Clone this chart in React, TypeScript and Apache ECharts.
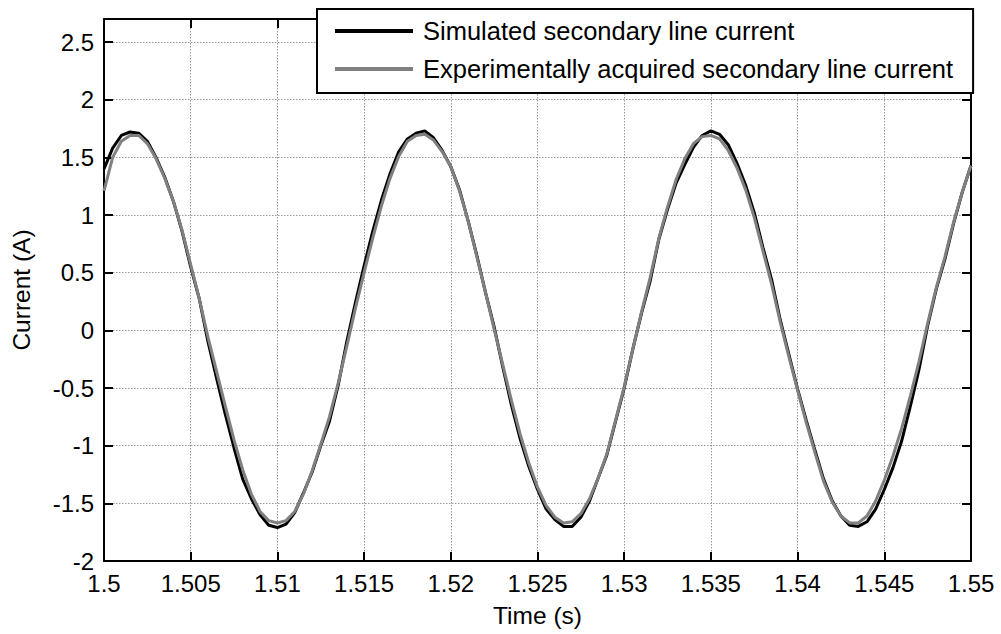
import { useEffect, useRef } from "react";
import * as echarts from "echarts";

// Sampling grid of the recorded window (seconds)
const T_START = 1.5;
const T_STEP = 0.0005;

// Simulated secondary line current (A), one value per sample
const SIMULATED = [
  1.40, 1.58, 1.69, 1.72, 1.71, 1.64, 1.50, 1.33, 1.12, 0.86,
  0.55, 0.27, -0.10, -0.42, -0.73, -1.02, -1.29, -1.46, -1.60, -1.69,
  -1.71, -1.68, -1.58, -1.41, -1.23, -1.00, -0.79, -0.48, -0.10, 0.24,
  0.56, 0.86, 1.13, 1.36, 1.55, 1.66, 1.71, 1.73, 1.67, 1.56,
  1.42, 1.22, 0.95, 0.65, 0.33, 0.03, -0.32, -0.65, -0.94, -1.18,
  -1.38, -1.55, -1.64, -1.70, -1.70, -1.62, -1.48, -1.28, -1.08, -0.79,
  -0.50, -0.16, 0.15, 0.43, 0.79, 1.05, 1.28, 1.44, 1.59, 1.69,
  1.73, 1.70, 1.61, 1.45, 1.26, 1.02, 0.72, 0.44, 0.09, -0.21,
  -0.51, -0.78, -1.04, -1.29, -1.48, -1.61, -1.69, -1.70, -1.66, -1.55,
  -1.38, -1.19, -0.96, -0.66, -0.34, 0.04, 0.36, 0.62, 0.93, 1.20,
  1.43,
];

// Experimentally acquired secondary line current (A)
const EXPERIMENTAL = [
  1.21, 1.50, 1.64, 1.69, 1.69, 1.62, 1.49, 1.32, 1.12, 0.87,
  0.57, 0.27, -0.06, -0.36, -0.66, -0.95, -1.21, -1.42, -1.57, -1.65,
  -1.67, -1.65, -1.57, -1.42, -1.22, -0.99, -0.75, -0.46, -0.14, 0.19,
  0.50, 0.80, 1.08, 1.32, 1.51, 1.64, 1.69, 1.70, 1.65, 1.55,
  1.42, 1.21, 0.95, 0.64, 0.33, 0.01, -0.30, -0.61, -0.90, -1.15,
  -1.36, -1.52, -1.62, -1.67, -1.66, -1.59, -1.46, -1.28, -1.07, -0.78,
  -0.49, -0.16, 0.16, 0.46, 0.80, 1.07, 1.31, 1.49, 1.62, 1.68,
  1.69, 1.66, 1.56, 1.41, 1.22, 0.98, 0.69, 0.40, 0.07, -0.23,
  -0.52, -0.80, -1.06, -1.31, -1.49, -1.61, -1.67, -1.67, -1.61, -1.48,
  -1.30, -1.09, -0.85, -0.57, -0.27, 0.06, 0.37, 0.64, 0.94, 1.20,
  1.43,
];

const SERIES_NAMES = [
  "Simulated secondary line current",
  "Experimentally acquired secondary line current",
];
const SERIES_COLORS = ["#000000", "#808080"];

const X_RANGE = { min: 1.5, max: 1.55, interval: 0.005 };
const Y_RANGE = { min: -2, max: 2.7, interval: 0.5 };

const X_TITLE = "Time (s)";
const Y_TITLE = "Current (A)";

const FONT = '"Liberation Sans", Arial, Helvetica, sans-serif';

function toPairs(values: number[]): [number, number][] {
  return values.map((v, i) => [Number((T_START + i * T_STEP).toFixed(4)), v]);
}

export default function App() {
  const ref = useRef<HTMLDivElement>(null);

  useEffect(() => {
    if (!ref.current) return;
    const chart = echarts.init(ref.current, undefined, { renderer: "svg" });

    const axisLine = { show: true, onZero: false, lineStyle: { color: "#000", width: 2 } };
    const tick = { show: true, inside: true, length: 9, lineStyle: { color: "#000", width: 2 } };
    const grid = { show: true, lineStyle: { color: "#999999", width: 1, type: [1.5, 1.5] } };

    chart.setOption({
      animation: false,
      backgroundColor: "#ffffff",
      textStyle: { fontFamily: FONT },
      grid: {
        left: 104,
        right: 30,
        top: 19,
        bottom: 73,
        containLabel: false,
        outerBoundsMode: "none",
      },
      legend: {
        orient: "vertical",
        left: 317,
        top: 9,
        padding: [8, 20, 10, 18],
        itemGap: 10,
        itemWidth: 78,
        itemHeight: 4,
        icon: "rect",
        backgroundColor: "#ffffff",
        borderColor: "#000",
        borderWidth: 2,
        borderRadius: 0,
        z: 10,
        textStyle: {
          fontFamily: FONT,
          fontSize: 25.5,
          color: "#000",
          lineHeight: 28,
          padding: [0, 0, 0, 5],
        },
        data: SERIES_NAMES,
      },
      xAxis: [
        {
          type: "value",
          position: "bottom",
          ...X_RANGE,
          name: X_TITLE,
          nameLocation: "middle",
          nameGap: 42,
          nameTextStyle: { fontFamily: FONT, fontSize: 24.5, color: "#000" },
          axisLine,
          axisTick: tick,
          axisLabel: {
            fontFamily: FONT,
            fontSize: 24,
            color: "#000",
            margin: 10,
            formatter: (v: number) => String(Number(v.toFixed(3))),
          },
          splitLine: grid,
        },
        {
          type: "value",
          position: "top",
          ...X_RANGE,
          axisLine,
          axisTick: tick,
          axisLabel: { show: false },
          splitLine: { show: false },
        },
      ],
      yAxis: [
        {
          type: "value",
          position: "left",
          ...Y_RANGE,
          name: Y_TITLE,
          nameLocation: "middle",
          nameGap: 70,
          nameRotate: 90,
          nameTextStyle: { fontFamily: FONT, fontSize: 24.5, color: "#000" },
          axisLine,
          axisTick: tick,
          axisLabel: {
            fontFamily: FONT,
            fontSize: 24,
            color: "#000",
            margin: 10,
            showMaxLabel: false,
            formatter: (v: number) => String(Number(v.toFixed(2))),
          },
          splitLine: grid,
        },
        {
          type: "value",
          position: "right",
          ...Y_RANGE,
          axisLine,
          axisTick: tick,
          axisLabel: { show: false },
          splitLine: { show: false },
        },
      ],
      series: [SIMULATED, EXPERIMENTAL].map((values, k) => ({
        type: "line",
        name: SERIES_NAMES[k],
        xAxisIndex: 0,
        yAxisIndex: 0,
        data: toPairs(values),
        showSymbol: false,
        symbol: "none",
        color: SERIES_COLORS[k],
        itemStyle: { color: SERIES_COLORS[k] },
        lineStyle: { color: SERIES_COLORS[k], width: 3 },
        z: 2 + k,
      })),
    });

    return () => chart.dispose();
  }, []);

  return (
    <div
      ref={ref}
      style={{ position: "absolute", left: 0, top: 0, width: 1001, height: 634 }}
    />
  );
}
